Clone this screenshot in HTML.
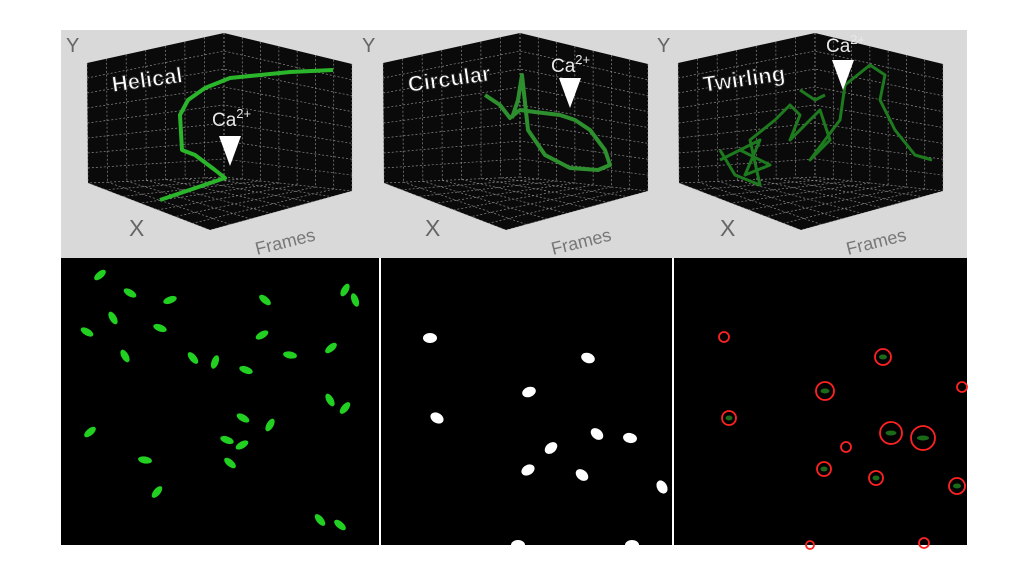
<!DOCTYPE html>
<html><head><meta charset="utf-8"><style>
body{margin:0;background:#fff;width:1024px;height:576px;overflow:hidden;font-family:"Liberation Sans",sans-serif}
svg{position:absolute;left:0;top:0}
</style></head><body>
<svg id="s" width="1024" height="576">
<rect x="61" y="30" width="906" height="228" fill="#d9d9d9"/>
<rect x="61" y="258" width="318" height="287" fill="#000"/>
<rect x="381" y="258" width="291" height="287" fill="#000"/>
<rect x="674" y="258" width="293" height="287" fill="#000"/>
<g id="topg"></g><g id="botg"></g>
</svg>
<script>
const NS='http://www.w3.org/2000/svg';
const titles=['Helical','Circular','Twirling'];
const offsets=[0,296,591];
const greenBlobs=[[100,275,-40],[130,293,30],[113,318,60],[170,300,-20],[265,300,40],[345,290,-60],[355,300,70],[160,328,20],[262,335,-30],[290,355,10],[331,348,-40],[125,356,60],[193,358,50],[215,362,-70],[87,332,30],[246,370,20],[330,400,60],[345,408,-50],[243,418,30],[270,425,-60],[227,440,20],[242,445,-30],[230,463,40],[90,432,-40],[157,492,-50],[320,520,50],[340,525,40],[145,460,10]];
const whiteBlobs=[[430,338,0],[588,358,20],[529,392,-20],[437,418,30],[597,434,40],[630,438,10],[551,448,-40],[528,470,-30],[582,475,40],[662,487,60],[518,545,0],[632,545,0]];
const circles=[[724,337,5],[883,357,8],[825,391,9],[729,418,7],[891,433,11],[923,438,12],[846,447,5],[962,387,5],[824,469,7],[876,478,7],[957,486,8],[810,545,4],[924,543,5]];
const topG=document.getElementById('topg'),botG=document.getElementById('botg');
function el(t,a,p){const e=document.createElementNS(NS,t);for(const k in a)e.setAttribute(k,a[k]);(p||topG).appendChild(e);return e;}
function lerp(a,b,t){return [a[0]+(b[0]-a[0])*t,a[1]+(b[1]-a[1])*t];}
offsets.forEach((o,i)=>{
  const TL=[87+o,63],BT=[224+o,33],TR=[352+o,64],RB=[352+o,191],FB=[210+o,230],LB=[88+o,183],BB=[224+o,177];
  const poly=[TL,BT,TR,RB,FB,LB].map(p=>p.join(',')).join(' ');
  const b=el('polygon',{points:poly,fill:'#0a0a0a'});
  
  
  const g=el('g',{stroke:'#aaa','stroke-width':'0.7','stroke-dasharray':'2,2',opacity:'0.8'});
  
  
  for(let k=0;k<=7;k++){const t=k/7;
    let a=lerp(TL,BT,t),c=lerp(LB,BB,t);el('line',{x1:a[0],y1:a[1],x2:c[0],y2:c[1]},g);
    a=lerp(BT,TR,t);c=lerp(BB,RB,t);el('line',{x1:a[0],y1:a[1],x2:c[0],y2:c[1]},g);
    a=lerp(LB,BB,t);c=lerp(FB,RB,t);el('line',{x1:a[0],y1:a[1],x2:c[0],y2:c[1]},g);
    a=lerp(BB,RB,t);c=lerp(LB,FB,t);el('line',{x1:a[0],y1:a[1],x2:c[0],y2:c[1]},g);}
  for(let k=1;k<8;k++){const t=k/8;
    let a=lerp(TL,LB,t),c=lerp(BT,BB,t),d=lerp(TR,RB,t);
    el('polyline',{points:a.join(',')+' '+c.join(',')+' '+d.join(','),fill:'none'},g);}
  const tt=el('text',{x:113+o,y:92,fill:'#fff',stroke:'#222','stroke-width':'1','font-size':'22','font-weight':'bold',transform:`rotate(-8 ${113+o} 92)`});
  tt.textContent=titles[i];
  const y=el('text',{x:66+o,y:52,fill:'#666','font-size':'20'});y.textContent='Y';
  
  const x=el('text',{x:129+o,y:236,fill:'#666','font-size':'23'});x.textContent='X';
  
  const f=el('text',{x:257+o,y:255,fill:'#777','font-size':'18',transform:`rotate(-14 ${257+o} 255)`});f.textContent='Frames';
  
});
const paths=[
 'M160,200 L225,178 L215,170 L195,155 L182,150 L180,115 L188,100 L205,88 L230,78 L250,76 L290,72 L333,70',
 'M485,95 L500,105 L510,118 L520,110 L535,112 L560,115 L575,120 L590,130 L605,150 L610,165 L598,170 L570,168 L545,155 L528,130 L522,75 L518,100 L512,118',
 'M720,150 L735,175 L760,185 L750,140 L775,120 L790,105 L800,115 L790,140 L820,110 L830,140 L810,160 L840,120 L845,85 L870,65 L885,75 L880,100 L895,130 L915,155 L932,160 M720,160 L760,140 L745,175 L770,165 L740,150 M800,90 L815,100 L825,95'];
const tc=['#2bb52b','#2e8f2e','#1e7a1e'];
paths.forEach((d,i)=>{const p=el('path',{d:d,fill:'none',stroke:tc[i],'stroke-width':i==2?3:4,'stroke-linejoin':'round'});
 });
[[230,166,212,126],[570,108,551,72],[843,90,826,52]].forEach(a=>{
 const ar=el('polygon',{points:`${a[0]-11},${a[1]-30} ${a[0]+11},${a[1]-30} ${a[0]},${a[1]}`,fill:'#fff'});
 
 const t=el('text',{x:a[2],y:a[3],fill:'#e8e8e8','font-size':'19'});t.innerHTML='Ca<tspan dy="-8" font-size="13">2+</tspan>';
 });
greenBlobs.forEach(b=>{const e=el('ellipse',{cx:b[0],cy:b[1],rx:7,ry:3.5,fill:'#22d022',transform:`rotate(${b[2]} ${b[0]} ${b[1]})`},botG);
 });
whiteBlobs.forEach(b=>{const e=el('ellipse',{cx:b[0],cy:b[1],rx:7,ry:5,fill:'#fff',transform:`rotate(${b[2]} ${b[0]} ${b[1]})`},botG);
 });
circles.forEach(c=>{const e=el('circle',{cx:c[0],cy:c[1],r:c[2],fill:'none',stroke:'#f22','stroke-width':1.8},botG);
 
 if(c[2]>6){const d=el('ellipse',{cx:c[0],cy:c[1],rx:c[2]*0.5,ry:2.5,fill:'#1a6a1a'},botG);
 }});
</script>
</body></html>
